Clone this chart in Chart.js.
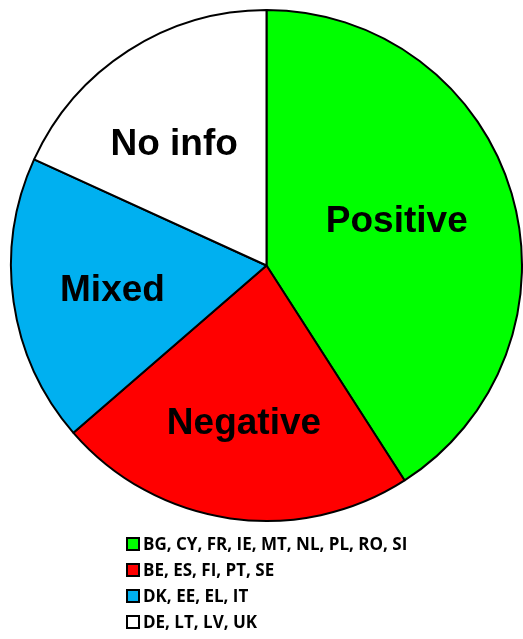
<!DOCTYPE html>
<html>
<head>
<meta charset="utf-8">
<script src="https://cdn.jsdelivr.net/npm/chart.js@4.4.1/dist/chart.umd.min.js"></script>
<style>
  html, body { margin: 0; padding: 0; background: #fff; overflow: hidden; }
  #wrap { position: relative; width: 523px; height: 639px; }
</style>
</head>
<body>
<div id="wrap"><canvas id="pie"></canvas></div>
<script>
// Opinion categories, number of countries in each, and the countries listed in the key
const categories = ['Positive', 'Negative', 'Mixed', 'No info'];
const countryCounts = [9, 5, 4, 4];
const countryLists = [
  'BG, CY, FR, IE, MT, NL, PL, RO, SI',
  'BE, ES, FI, PT, SE',
  'DK, EE, EL, IT',
  'DE, LT, LV, UK'
];
const sliceColors = ['#00FF00', '#FF0000', '#00B0F0', '#FFFFFF'];

// Category names written inside each slice, placed along the slice's mid-angle
const sliceLabels = {
  id: 'sliceLabels',
  afterDatasetsDraw(chart, args, opts) {
    const ctx = chart.ctx;
    const arcs = chart.getDatasetMeta(0).data;
    ctx.save();
    ctx.font = opts.font;
    ctx.fillStyle = '#000';
    ctx.textAlign = 'center';
    ctx.textBaseline = 'middle';
    arcs.forEach((arc, i) => {
      const p = arc.getProps(['x', 'y', 'startAngle', 'endAngle', 'outerRadius'], true);
      const mid = (p.startAngle + p.endAngle) / 2 + opts.shift[i];
      const r = p.outerRadius * opts.radial[i];
      ctx.fillText(chart.data.labels[i], p.x + Math.cos(mid) * r, p.y + Math.sin(mid) * r + opts.dy);
    });
    ctx.restore();
  }
};

// Key below the pie: one row per category, colour box then the country list
const countryKey = {
  id: 'countryKey',
  afterDraw(chart, args, opts) {
    const ctx = chart.ctx;
    ctx.save();
    ctx.font = opts.font;
    ctx.textBaseline = 'middle';
    ctx.textAlign = 'left';
    countryLists.forEach((txt, i) => {
      const y = opts.top + i * opts.rowGap;
      ctx.fillStyle = sliceColors[i];
      ctx.fillRect(opts.left, y - opts.box / 2, opts.box, opts.box);
      ctx.strokeStyle = '#000';
      ctx.lineWidth = 2;
      ctx.strokeRect(opts.left, y - opts.box / 2, opts.box, opts.box);
      ctx.fillStyle = '#000';
      ctx.fillText(txt, opts.left + opts.box + 4, y + 1);
    });
    ctx.restore();
  }
};

new Chart(document.getElementById('pie'), {
  type: 'pie',
  data: {
    labels: categories,
    datasets: [{
      data: countryCounts,
      backgroundColor: sliceColors,
      borderColor: '#000',
      borderWidth: 2
    }]
  },
  options: {
    responsive: true,
    maintainAspectRatio: false,
    animation: false,
    events: [],
    layout: { padding: { left: 10, right: 0, top: 8, bottom: 116 } },
    plugins: {
      legend: { display: false },
      tooltip: { enabled: false },
      sliceLabels: {
        font: 'bold 37px "Liberation Sans", Arial, sans-serif',
        radial: [0.54, 0.62, 0.61, 0.60],
        shift: [-0.05, 0, -0.01, -0.075],
        dy: 1.5
      },
      countryKey: {
        font: 'bold 17px "Open Sans", sans-serif',
        left: 127, top: 544, rowGap: 26, box: 12
      }
    }
  },
  plugins: [sliceLabels, countryKey]
});
</script>
</body>
</html>
